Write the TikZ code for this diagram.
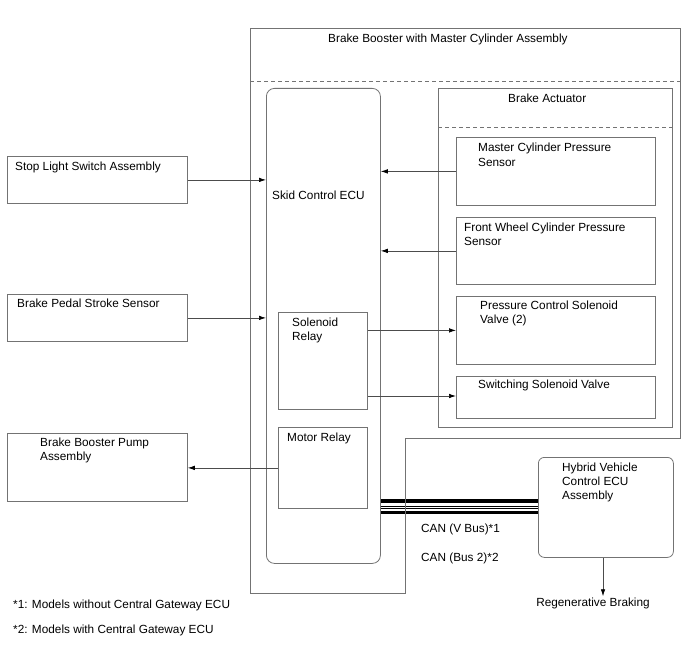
\documentclass[tikz,border=0pt]{standalone}
\usepackage{fontspec}
\setmainfont{Liberation Sans}
\usepackage{tikz}
\usetikzlibrary{positioning,arrows.meta,calc}

\begin{document}
\begin{tikzpicture}[x=1pt,y=-1pt,>=Latex,
    font=\fontsize{11.8}{14}\selectfont,
    blk/.style={draw=black!55,line width=0.8pt,inner sep=0pt,anchor=north west},
    txt/.style={anchor=base west,inner sep=0pt,align=left},
    arr/.style={draw=black!70,line width=0.7pt,-{Latex[length=7pt,width=4.5pt,black]}},
    bus/.style={line width=3.4pt}]
  \useasboundingbox (0,0) rectangle (688,658);
  % outer assembly with notch
  \draw[draw=black!55,line width=0.8pt] (250,28) -- (680,28) -- (680,438) -- (405,438)
    -- (405,593) -- (250,593) -- cycle;
  \draw[draw=black!55,line width=0.7pt,dash pattern=on 4pt off 3pt] (250,81) -- (680,81);
  \node[txt] (bbtitle) at (328,43) {Brake Booster with Master Cylinder Assembly};
  % brake actuator
  \node[blk,minimum width=234pt,minimum height=339pt] (act) at (438,88) {};
  \draw[draw=black!55,line width=0.7pt,dash pattern=on 4pt off 3pt] (act.west |- 0,127) -- (act.east |- 0,127);
  \node[txt] (actlbl) at (508,103) {Brake Actuator};
  % skid control ECU
  \node[blk,rounded corners=8pt,minimum width=114pt,minimum height=475pt] (ecu) at (266,88) {};
  \node[txt] (eculbl) at (272,199) {Skid Control ECU};
  \foreach \n/\x/\y/\w/\h in {mcps/456/137/199/68, fwcps/456/217/199/67, pcsv/456/296/199/68,
      ssv/456/376/199/42, solrel/278/312/89/97, motrel/278/427/89/81,
      stop/7/156/180/47, pedal/7/294/180/47, pump/7/433/180/68} {
    \node[blk,minimum width=\w pt,minimum height=\h pt] (\n) at (\x,\y) {};
  }
  \node[blk,rounded corners=6pt,minimum width=135pt,minimum height=100pt] (hv) at (538,457) {};
  % labels (base = last line)
  \node[txt] (mcpslbl) at (478,166) {Master Cylinder Pressure\\Sensor};
  \node[txt] (fwcpslbl) at (464,245) {Front Wheel Cylinder Pressure\\Sensor};
  \node[txt] (pcsvlbl) at (480,323) {Pressure Control Solenoid\\Valve (2)};
  \node[txt] (ssvlbl) at (478,388) {Switching Solenoid Valve};
  \node[txt] (solrellbl) at (292,340) {Solenoid\\Relay};
  \node[txt] (motrellbl) at (287,441) {Motor Relay};
  \node[txt] (stoplbl) at (15,171) {Stop Light Switch Assembly};
  \node[txt] (pedallbl) at (17,307) {Brake Pedal Stroke Sensor};
  \node[txt] (pumplbl) at (40,460) {Brake Booster Pump\\Assembly};
  \node[txt] (hvlbl) at (562,499) {Hybrid Vehicle\\Control ECU\\Assembly};
  \node[txt] (can1) at (421,532) {CAN (V Bus)*1};
  \node[txt] (can2) at (421,561) {CAN (Bus 2)*2};
  \node[anchor=base,inner sep=1pt] (regen) at (593,606) {Regenerative Braking};
  \node[txt] (note1) at (13,608) {*1: Models without Central Gateway ECU};
  \node[txt] (note2) at (13,633) {*2: Models with Central Gateway ECU};
  % signals
  \draw[arr] (stop.east) -- (stop.east -| ecu.west);
  \draw[arr] (pedal.east) -- (pedal.east -| ecu.west);
  \draw[arr] (mcps.west) -- (mcps.west -| ecu.east);
  \draw[arr] (fwcps.west) -- (fwcps.west -| ecu.east);
  \draw[arr] (solrel.east |- pcsv.west) -- (pcsv.west);
  \draw[arr] (solrel.east |- 0,396) -- (ssv.west |- 0,396);
  \draw[arr] (motrel.west) -- (motrel.west -| pump.east);
  \draw[arr] (hv.south -| 603,0) -- (regen.north -| 603,0);
  % CAN bus
  \draw[bus] (ecu.east |- 0,501) -- (hv.west |- 0,501);
  \draw[line width=0.6pt] (ecu.east |- 0,506) -- (hv.west |- 0,506);
  \draw[line width=0.6pt] (ecu.east |- 0,508.5) -- (hv.west |- 0,508.5);
  \draw[bus] (ecu.east |- 0,512.7) -- (hv.west |- 0,512.7);
  \draw[draw=black!55,line width=0.8pt] (405,438) -- (405,593);
\end{tikzpicture}
\end{document}
